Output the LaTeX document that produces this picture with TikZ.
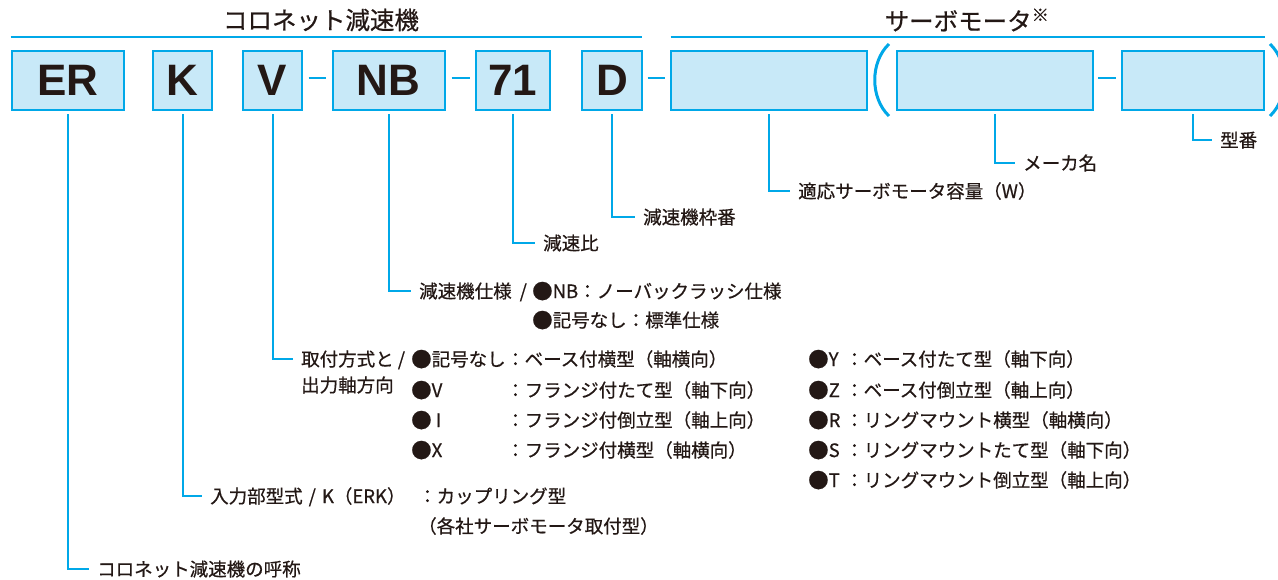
\documentclass[tikz,border=0pt]{standalone}
\usepackage{fontspec}
\setmainfont{Noto Sans CJK JP}[FakeBold=0.6]
\newfontfamily\boxfont{Liberation Sans}
\definecolor{cy}{HTML}{00A8E8}
\definecolor{bf}{HTML}{C8E9F8}
\definecolor{tx}{HTML}{231815}
\newcommand\bigdot{\raisebox{-0.8pt}{\fontsize{20.5}{20.5}\selectfont ●}}
\begin{document}
\begin{tikzpicture}[x=1pt,y=-1pt,
  code/.style={draw=cy, fill=bf, line width=2pt, inner sep=0pt, minimum height=58.7pt,
    font=\boxfont\bfseries\fontsize{44}{44}\selectfont, text=tx},
  conn/.style={draw=cy, line width=2pt, shorten <=3.5pt},
  dashl/.style={draw=cy, line width=2pt},
  rule/.style={draw=cy, line width=2pt},
  paren/.style={draw=cy, line width=3pt},
  lbl/.style={anchor=west, inner xsep=8pt, inner ysep=0pt, text height=16.3pt, text depth=2.2pt,
    font=\fontsize{18.5}{18.5}\selectfont, text=tx},
  lbl0/.style={lbl, inner xsep=0pt},
  head/.style={font=\fontsize{24.5}{24.5}\selectfont, text=tx, inner sep=0pt}
]
\useasboundingbox (0,0) rectangle (1278,580);

% headers
\node[head] (h1) at (321,20) {コロネット減速機};
\node[head] (h2) at (967,20) {サーボモータ\textsuperscript{※}};
\coordinate (r1a) at (10.5,36.7); \coordinate (r1b) at (642,36.7);
\coordinate (r2a) at (670.5,36.7); \coordinate (r2b) at (1265,36.7);
\draw[rule] (r1a) -- (r1b);
\draw[rule] (r2a) -- (r2b);

% code boxes
\node[code, minimum width=112pt] (ER) at (67.7,80.3) {ER};
\node[code, minimum width=59pt] (K) at (182.5,80.3) {K};
\node[code, minimum width=59pt] (V) at (272.5,80.3) {V};
\node[code, minimum width=112pt] (NB) at (388.5,80.3) {NB};
\node[code, minimum width=74pt] (R71) at (513,80.3) {71};
\node[code, minimum width=60pt] (D) at (612,80.3) {D};
\node[code, minimum width=195.5pt] (M1) at (769.2,80.3) {};
\node[code, minimum width=196pt] (M2) at (994.5,80.3) {};
\node[code, minimum width=142.3pt] (M3) at (1192.8,80.3) {};

% dashes
\draw[dashl] ([xshift=5.5pt,yshift=1.8pt]V.east) -- ([xshift=-6pt,yshift=1.8pt]NB.west);
\draw[dashl] ([xshift=6pt,yshift=1.8pt]NB.east) -- ([xshift=-5pt,yshift=1.8pt]R71.west);
\draw[dashl] ([xshift=4.5pt,yshift=1.8pt]D.east) -- ([xshift=-5.5pt,yshift=1.8pt]M1.west);
\draw[dashl] ([xshift=4.5pt,yshift=1.8pt]M2.east) -- ([xshift=-4.5pt,yshift=1.8pt]M3.west);

% parentheses
\draw[paren] (889,44) .. controls (870,62) and (870,98) .. (889,116);
\draw[paren] (1270,44) .. controls (1289,62) and (1289,98) .. (1270,116);

% labels
\node[lbl] (tER) at (89,569) {コロネット減速機の呼称};
\node[lbl] (tK) at (202,496) {入力部型式\hspace{6pt}/\hspace{6pt}K（ERK）};
\node[lbl0] (tK2) at (418,496) {：カップリング型};
\node[lbl0] (tK3) at (418,526) {（各社サーボモータ取付型）};

\node[lbl] (tV) at (293,359) {取付方式と /};
\node[lbl0] (tV2) at (301,385) {出力軸方向};
\node[lbl0] (v1) at (411,359) {\bigdot 記号なし};
\node[lbl0] (v2) at (411,390) {\bigdot V};
\node[lbl0] (v3) at (411,420) {\bigdot\hspace{4pt}I};
\node[lbl0] (v4) at (411,450) {\bigdot X};
\node[lbl0] (c1) at (506,359) {：ベース付横型（軸横向）};
\node[lbl0] (c2) at (506,390) {：フランジ付たて型（軸下向）};
\node[lbl0] (c3) at (506,420) {：フランジ付倒立型（軸上向）};
\node[lbl0] (c4) at (506,450) {：フランジ付横型（軸横向）};
\node[lbl0] (w1) at (808,359) {\bigdot Y};
\node[lbl0] (w2) at (808,390) {\bigdot Z};
\node[lbl0] (w3) at (808,420) {\bigdot R};
\node[lbl0] (w4) at (808,450) {\bigdot S};
\node[lbl0] (w5) at (808,480) {\bigdot T};
\node[lbl0] (d1) at (845,359) {：ベース付たて型（軸下向）};
\node[lbl0] (d2) at (845,390) {：ベース付倒立型（軸上向）};
\node[lbl0] (d3) at (845,420) {：リングマウント横型（軸横向）};
\node[lbl0] (d4) at (845,450) {：リングマウントたて型（軸下向）};
\node[lbl0] (d5) at (845,480) {：リングマウント倒立型（軸上向）};

\node[lbl] (tNB) at (411,291) {減速機仕様\hspace{8pt}/};
\node[lbl0] (n1) at (532,291) {\bigdot NB：ノーバックラッシ仕様};
\node[lbl0] (n2) at (532,320) {\bigdot 記号なし：標準仕様};

\node[lbl] (t71) at (535,243) {減速比};
\node[lbl] (tD) at (635,217) {減速機枠番};
\node[lbl] (tM1) at (790,191) {適応サーボモータ容量（W）};
\node[lbl] (tM2) at (1015,163) {メーカ名};
\node[lbl] (tM3) at (1212,140) {型番};

% connectors
\draw[conn] (ER.south) |- (tER.west);
\draw[conn] (K.south) |- (tK.west);
\draw[conn] (V.south) |- (tV.west);
\draw[conn] (NB.south) |- (tNB.west);
\draw[conn] (R71.south) |- (t71.west);
\draw[conn] (D.south) |- (tD.west);
\draw[conn] (M1.south) |- (tM1.west);
\draw[conn] (M2.south) |- (tM2.west);
\draw[conn] (M3.south) |- (tM3.west);
\end{tikzpicture}
\end{document}
